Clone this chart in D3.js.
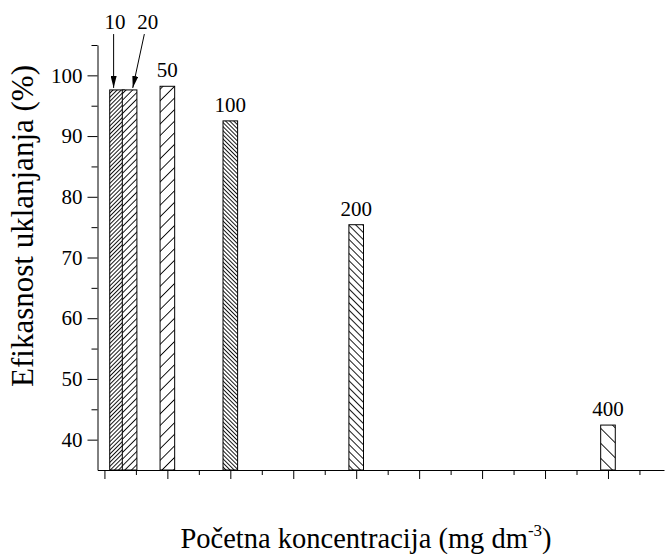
<!DOCTYPE html>
<html>
<head>
<meta charset="utf-8">
<script src="https://cdn.jsdelivr.net/npm/d3@7"></script>
<style>
  body { margin: 0; background: #fff; }
  .axis path, .axis line { stroke: #000; stroke-width: 1; }
</style>
</head>
<body>
<svg id="chart"></svg>
<script>
//Base SVG values
let width = 666
let height = 554
let serif = "'Liberation Serif', 'Times New Roman', Times, 'DejaVu Serif', serif"

//Data
let concentrations = [10, 20, 50, 100, 200, 400]
let efficiency = [97.6, 97.6, 98.2, 92.5, 75.4, 42.4]
let barLabels = ["10", "20", "50", "100", "200", "400"]

//hatch of each bar: direction and spacing
let hatchDir = ["/", "/", "/", "\\", "\\", "\\"]
let hatchGap = [2.9, 4.7, 8.2, 2.9, 5.0, 10.6]

//labels 10 and 20 sit above the plot with arrows
let arrowLabels = ["10", "20"]
let arrowTextX = [8.5, 34.5]
let arrowTipX = [7.3, 22.5]

let yMajor = [40, 50, 60, 70, 80, 90, 100]
let yMinor = [45, 55, 65, 75, 85, 95, 105]
let xMajor = [0, 50, 100, 150, 200, 250, 300, 350, 400]
let xMinor = [25, 75, 125, 175, 225, 275, 325, 375, 425]

let plot = { left: 97.5, right: 664, top: 45, bottom: 470 }

let xScale = d3.scaleLinear()
				.domain([-5.5, 444.5])
				.range([plot.left, plot.right])
let yScale = d3.scaleLinear()
				.domain([35, 105])
				.range([plot.bottom, plot.top])

let svg = d3.select("#chart")
	.attr("width", width)
	.attr("height", height)

//Patterns
let defs = svg.append("defs")
hatchDir.forEach((dir, i) => {
	let gap = hatchGap[i]
	let p = defs.append("pattern")
		.attr("id", "hatch" + i)
		.attr("patternUnits", "userSpaceOnUse")
		.attr("width", gap)
		.attr("height", gap)
		.attr("patternTransform", dir === "/" ? "rotate(45)" : "rotate(-45)")
	p.append("rect")
		.attr("width", gap)
		.attr("height", gap)
		.attr("fill", "#fff")
	p.append("line")
		.attr("x1", gap / 2).attr("y1", 0)
		.attr("x2", gap / 2).attr("y2", gap)
		.attr("stroke", "#000")
		.attr("stroke-width", 0.9)
})

defs.append("marker")
	.attr("id", "arrow")
	.attr("viewBox", "0 0 12 6")
	.attr("refX", 12)
	.attr("refY", 3)
	.attr("markerWidth", 12)
	.attr("markerHeight", 6)
	.attr("markerUnits", "userSpaceOnUse")
	.attr("orient", "auto")
  .append("path")
	.attr("d", "M0,0 L12,3 L0,6 Z")
	.attr("fill", "#000")

//Bars
let barWidth = 14.6
svg.append("g")
  .selectAll("rect")
  .data(concentrations)
  .enter()
  .append("rect")
	.attr("x", d => xScale(d) - barWidth / 2)
	.attr("y", (d, i) => yScale(efficiency[i]))
	.attr("width", barWidth)
	.attr("height", (d, i) => yScale(35) - yScale(efficiency[i]))
	.attr("fill", (d, i) => `url(#hatch${i})`)
	.attr("stroke", "#000")
	.attr("stroke-width", 1)

//Labels above bars (50 and up)
svg.append("g")
  .selectAll("text")
  .data(concentrations.slice(2))
  .enter()
  .append("text")
	.attr("x", d => xScale(d))
	.attr("y", (d, i) => yScale(efficiency[i + 2]) - 9)
	.attr("text-anchor", "middle")
	.style("font-family", serif)
	.style("font-size", "21px")
	.text((d, i) => barLabels[i + 2])

//Arrow labels 10 and 20
arrowLabels.forEach((lab, i) => {
	svg.append("text")
		.attr("x", xScale(arrowTextX[i]))
		.attr("y", yScale(107.6))
		.attr("text-anchor", "middle")
		.style("font-family", serif)
		.style("font-size", "21px")
		.text(lab)
	svg.append("line")
		.attr("x1", xScale(arrowTextX[i]) - (i === 0 ? 1.5 : 3.5))
		.attr("y1", yScale(106.8))
		.attr("x2", xScale(arrowTipX[i]))
		.attr("y2", yScale(efficiency[i]) - 2)
		.attr("stroke", "#000")
		.attr("stroke-width", 1)
		.attr("marker-end", "url(#arrow)")
})

//Axis
let axisL = d3.axisLeft(yScale)
	.tickValues(yMajor)
	.tickSize(10)
	.tickSizeOuter(0)
	.tickPadding(5)
let axisLMinor = d3.axisLeft(yScale)
	.tickValues(yMinor)
	.tickSize(6)
	.tickSizeOuter(0)
	.tickFormat("")
let axisB = d3.axisBottom(xScale)
	.tickValues(xMajor)
	.tickSize(9)
	.tickSizeOuter(0)
	.tickFormat("")
let axisBMinor = d3.axisBottom(xScale)
	.tickValues(xMinor)
	.tickSize(5)
	.tickSizeOuter(0)
	.tickFormat("")

svg.append("g")
	.attr("class", "axis")
	.attr("transform", `translate(${plot.left},0)`)
	.call(axisL)
	.call(g => g.attr("font-family", null).attr("font-size", null))
	.call(g => g.selectAll("text")
		.style("font-family", serif)
		.style("font-size", "21px")
		.style("fill", "#000"))

svg.append("g")
	.attr("class", "axis")
	.attr("transform", `translate(${plot.left},0)`)
	.call(axisLMinor)
	.call(g => g.select(".domain").remove())

svg.append("g")
	.attr("class", "axis")
	.attr("transform", `translate(0,${plot.bottom})`)
	.call(axisB)

svg.append("g")
	.attr("class", "axis")
	.attr("transform", `translate(0,${plot.bottom})`)
	.call(axisBMinor)
	.call(g => g.select(".domain").remove())

//Axis labels
svg.append("text")
	.attr("transform", "rotate(-90)")
	.attr("x", -226)
	.attr("y", 33)
	.style("text-anchor", "middle")
	.style("font-family", serif)
	.style("font-size", "31px")
	.text("Efikasnost uklanjanja (%)")

let xTitle = svg.append("text")
	.attr("x", 366)
	.attr("y", 548)
	.style("text-anchor", "middle")
	.style("font-family", serif)
	.style("font-size", "28.5px")
xTitle.append("tspan").text("Početna koncentracija (mg dm")
xTitle.append("tspan").attr("dy", -12).style("font-size", "17px").text("-3")
xTitle.append("tspan").attr("dy", 12).text(")")
</script>
</body>
</html>
